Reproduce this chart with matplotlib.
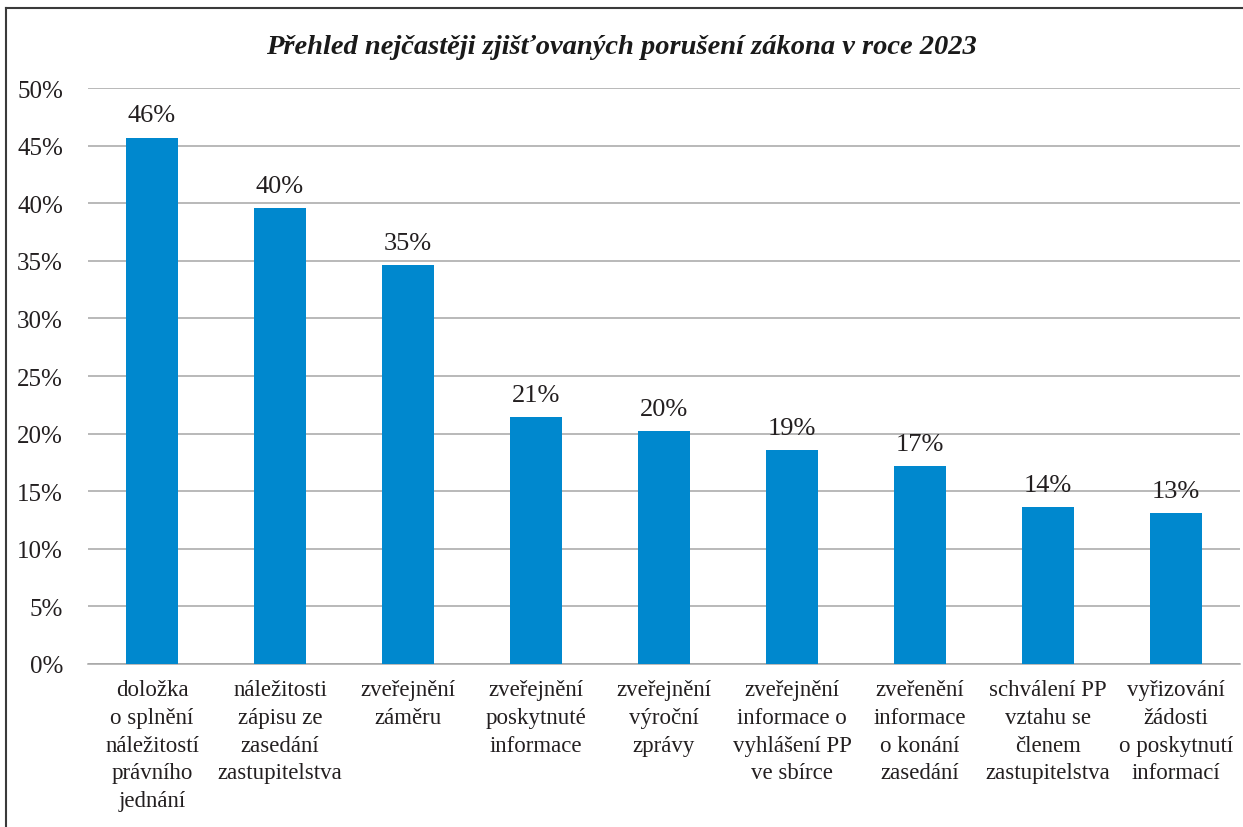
import matplotlib.pyplot as plt
from matplotlib.lines import Line2D

# Data
categories = [
    "doložka\no splnění\nnáležitostí\nprávního\njednání",
    "náležitosti\nzápisu ze\nzasedání\nzastupitelstva",
    "zveřejnění\nzáměru",
    "zveřejnění\nposkytnuté\ninformace",
    "zveřejnění\nvýroční\nzprávy",
    "zveřejnění\ninformace o\nvyhlášení PP\nve sbírce",
    "zveřenění\ninformace\no konání\nzasedání",
    "schválení PP\nvztahu se\nčlenem\nzastupitelstva",
    "vyřizování\nžádosti\no poskytnutí\ninformací",
]
values = [45.7, 39.6, 34.6, 21.4, 20.2, 18.6, 17.2, 13.6, 13.1]
y_ticks = [0, 5, 10, 15, 20, 25, 30, 35, 40, 45, 50]

plt.rcParams["font.family"] = ["Liberation Serif", "DejaVu Serif"]
bar_color = "#0088CE"
grid_color = "#A6A6A6"
text_color = "#231F20"

fig = plt.figure(figsize=(12.43, 8.28), dpi=100)
ax = fig.add_axes([88 / 1243, 1 - 665 / 828, 1152 / 1243, 576 / 828])

x = range(len(categories))
bars = ax.bar(x, values, width=0.4, color=bar_color, zorder=3)

ax.set_xlim(-0.5, len(categories) - 0.5)
ax.set_ylim(0, 50)
ax.set_yticks(y_ticks)
ax.set_yticklabels([f"{t}%" for t in y_ticks], fontsize=18, color=text_color)
ax.set_xticks(list(x))
ax.set_xticklabels(categories, fontsize=16.5, color=text_color, linespacing=1.42)
ax.tick_params(axis="both", length=0)
ax.tick_params(axis="y", pad=18)
ax.tick_params(axis="x", pad=11)

ax.grid(axis="y", color=grid_color, linewidth=1.1, zorder=0)
for side in ["top", "right", "left"]:
    ax.spines[side].set_visible(False)
ax.spines["bottom"].set_color(grid_color)
ax.spines["bottom"].set_linewidth(1.1)

for b, v in zip(bars, values):
    ax.annotate(f"{v:.0f}%", (b.get_x() + b.get_width() / 2, v),
                xytext=(0, 8), textcoords="offset points",
                ha="center", va="bottom", fontsize=19, color=text_color)

fig.text(0.5, 1 - 48 / 828, "Přehled nejčastěji zjišťovaných porušení zákona v roce 2023",
         ha="center", va="center", fontsize=20.5, fontweight="bold", fontstyle="italic",
         color="#1A1A1A")

# frame on left and top edges
fig.add_artist(Line2D([6 / 1243, 6 / 1243], [0, 1 - 9 / 828], transform=fig.transFigure,
                      color="#3A3A3A", linewidth=1.5))
fig.add_artist(Line2D([6 / 1243, 1], [1 - 9 / 828, 1 - 9 / 828], transform=fig.transFigure,
                      color="#3A3A3A", linewidth=1.5))

fig.savefig("out.png", dpi=100)
